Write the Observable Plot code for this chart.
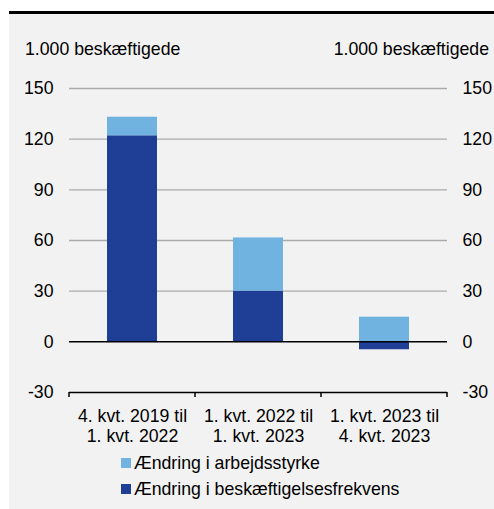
<!DOCTYPE html>
<html>
<head>
<meta charset="utf-8">
<script src="https://cdn.jsdelivr.net/npm/d3@7"></script>
<script src="https://cdn.jsdelivr.net/npm/@observablehq/plot@0.6"></script>
<style>
  html, body { margin: 0; padding: 0; background: #ffffff; }
  #wrap { position: relative; width: 494px; height: 509px; overflow: hidden; font-family: "Liberation Sans", Arial, sans-serif; color: #000; }
  #bg { position: absolute; left: 9px; top: 14px; right: 0; bottom: 0; background: #f2f2f2; }
  #rule { position: absolute; left: 9px; top: 11px; right: 0; height: 3px; background: #000; }
  .unit { position: absolute; top: 39px; font-size: 17.7px; line-height: 20px; white-space: nowrap; }
  #chart { position: absolute; left: 0; top: 0; }
  #legend { position: absolute; left: 121px; top: 450px; font-size: 17.7px; }
  .item { display: flex; align-items: center; height: 26px; }
  .sw { width: 10px; height: 10px; margin-right: 3px; }
</style>
</head>
<body>
<div id="wrap">
  <div id="bg"></div>
  <div id="rule"></div>
  <div class="unit" style="left:25px">1.000 beskæftigede</div>
  <div class="unit" style="right:5px">1.000 beskæftigede</div>
  <div id="chart"></div>
  <div id="legend"></div>
</div>
<script>
// Data
const periods = ["4. kvt. 2019 til\n1. kvt. 2022", "1. kvt. 2022 til\n1. kvt. 2023", "1. kvt. 2023 til\n4. kvt. 2023"];
const seriesNames = ["Ændring i beskæftigelsesfrekvens", "Ændring i arbejdsstyrke"];
const frekvens = [122, 30, -4.7];
const arbejdsstyrke = [11, 31.5, 14.6];
const yTicks = [-30, 0, 30, 60, 90, 120, 150];
const colors = ["#1f3f96", "#70b3e0"];
const legendOrder = ["Ændring i arbejdsstyrke", "Ændring i beskæftigelsesfrekvens"];

const data = [];
periods.forEach((p, i) => {
  data.push({period: p, series: seriesNames[0], value: frekvens[i]});
  data.push({period: p, series: seriesNames[1], value: arbejdsstyrke[i]});
});

function boundaryTicks(index, scales, values, dims) {
  const n = periods.length;
  const x0 = dims.marginLeft, x1 = dims.width - dims.marginRight;
  const yb = scales.y(-30);
  const g = d3.create("svg:g");
  for (let i = 0; i <= n; i++) {
    const x = x0 + i * (x1 - x0) / n;
    g.append("line").attr("x1", x).attr("x2", x).attr("y1", yb).attr("y2", yb + 5)
      .attr("stroke", "#000").attr("stroke-width", 1.5);
  }
  return g.node();
}

const fmt = d => String(d); // hyphen-minus as in reference

const chart = Plot.plot({
  width: 494,
  height: 450,
  marginTop: 88,
  marginBottom: 58,
  marginLeft: 69,
  marginRight: 47,
  style: {background: "transparent", fontFamily: "Liberation Sans, Arial, sans-serif", fontSize: "17.7px", color: "#000"},
  x: {domain: periods, paddingInner: 0.6, paddingOuter: 0.3, label: null},
  y: {domain: [-30, 150], label: null},
  color: {domain: seriesNames, range: colors},
  marks: [
    Plot.gridY(yTicks.filter(d => d > 0), {stroke: "#ababab", strokeOpacity: 1, strokeWidth: 1.3}),
    Plot.barY(data, {x: "period", y: "value", fill: "series", order: seriesNames, inset: 0}),
    Plot.ruleY([0], {stroke: "#000", strokeWidth: 1.5}),
    Plot.ruleY([-30], {stroke: "#000", strokeWidth: 1.5}),
    boundaryTicks,
    Plot.axisY({anchor: "left", ticks: yTicks, tickFormat: fmt, tickSize: 0, tickPadding: 16, fontSize: 17.7, label: null}),
    Plot.axisY({anchor: "right", ticks: yTicks, tickFormat: fmt, tickSize: 0, tickPadding: 15, fontSize: 17.7, label: null}),
    Plot.axisX({anchor: "bottom", tickSize: 0, tickPadding: 15, fontSize: 17.7, lineHeight: 1.13, label: null})
  ]
});
document.getElementById("chart").appendChild(chart);

const legend = document.getElementById("legend");
legendOrder.forEach(name => {
  const item = document.createElement("div");
  item.className = "item";
  const sw = document.createElement("div");
  sw.className = "sw";
  sw.style.background = colors[seriesNames.indexOf(name)];
  const t = document.createElement("span");
  t.textContent = name;
  item.appendChild(sw);
  item.appendChild(t);
  legend.appendChild(item);
});
</script>
</body>
</html>
